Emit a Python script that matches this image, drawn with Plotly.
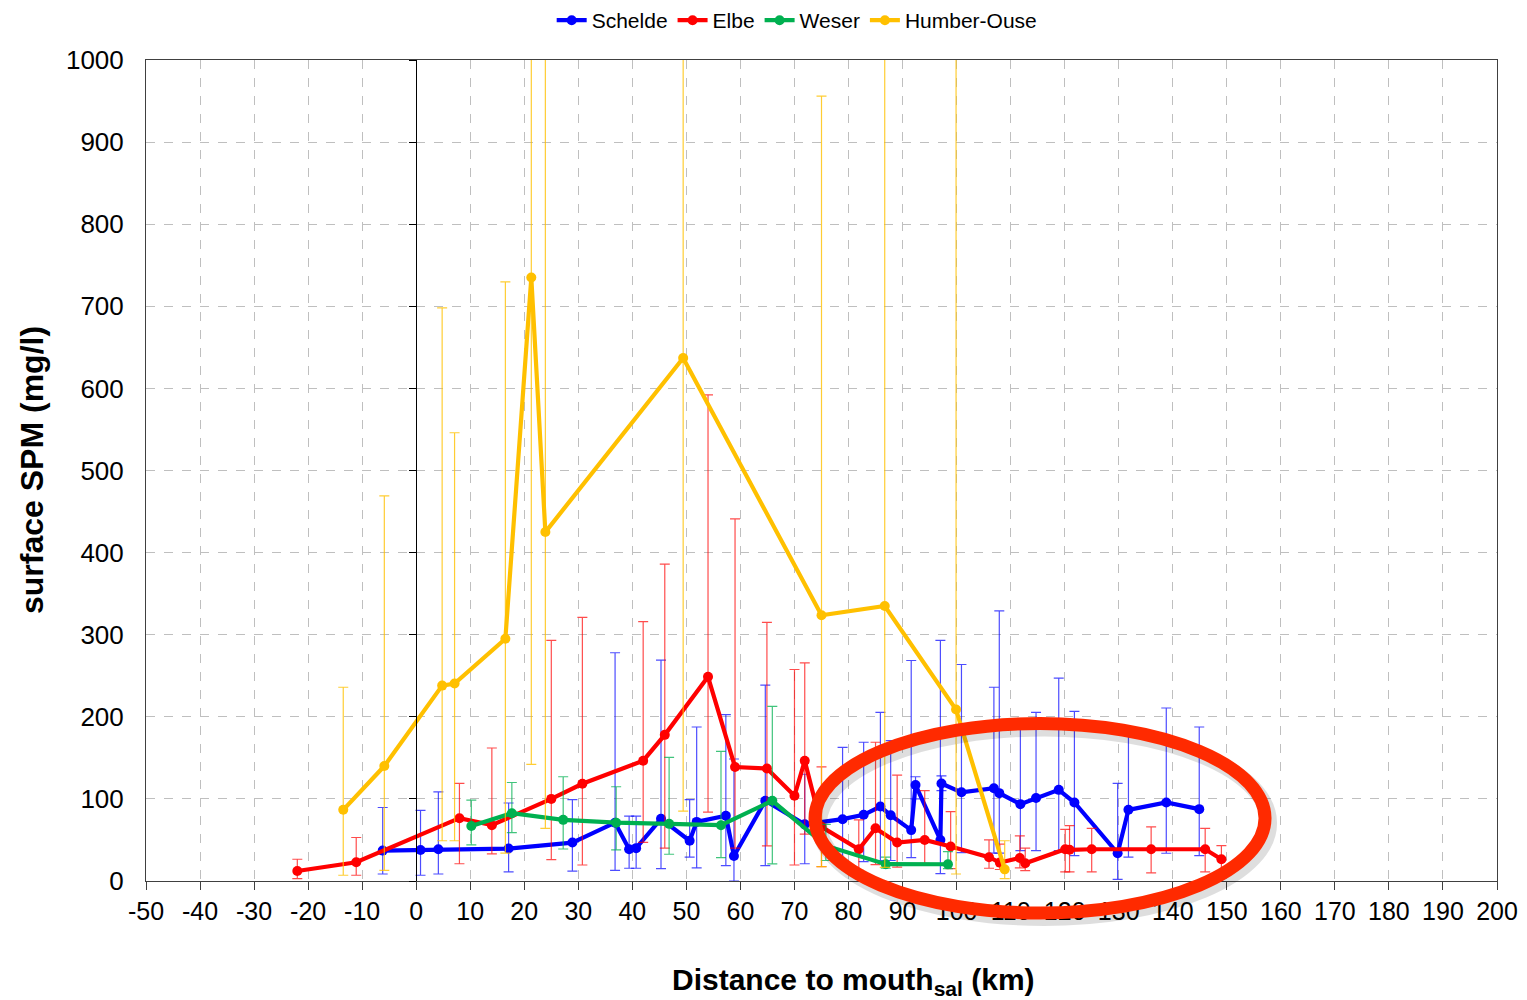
import plotly.graph_objects as go

# ---------------- data ----------------
schelde_x = [-6.2, 0.8, 4.1, 17.1, 28.9, 36.8, 39.4, 40.7, 45.3, 50.6, 51.9, 57.3, 58.8, 64.6,
             71.9, 78.9, 82.8, 85.9, 87.8, 91.6, 92.4, 97.0, 97.2, 100.9, 106.9, 107.9, 111.8,
             114.7, 118.9, 121.8, 129.8, 131.8, 138.8, 144.9]
schelde_y = [37, 37.8, 38.6, 39.5, 46.8, 71, 38.7, 40, 75.7, 49, 72, 79.4, 30.5, 97.7,
             69, 75.3, 80.6, 90.7, 80, 62, 117, 50, 118.8, 108, 113, 107, 93.6,
             101, 111, 95.6, 33.8, 86.7, 95.6, 87.5]
schelde_hi = [89.5, 86, 108.6, 95, 99, 278, 79, 79, 269, 99, 187.6, 202.7, 148.6, 238.5,
              130, 162.8, 169, 205.5, 171, 268.6, 127, 293, 128, 263.7, 236, 329, 196.5,
              205.5, 247, 206.7, 119, 185, 210.7, 187.6]
schelde_lo = [8.5, 7, 8.5, 11, 12, 13, 15.5, 15.5, 15, 29, 16, 18.7, 0, 18.7,
              21, 20, 23.6, 25, 25, 28.5, 100, 9, 110, 34.5, 34, 34, 37,
              37, 37, 31, 2, 29, 33.8, 31]

elbe_x = [-22.0, -11.1, 8.0, 14.0, 25.0, 30.75, 42.0, 46.0, 54.0, 59.0, 64.9, 70.0, 71.9,
          75.0, 81.9, 85.0, 89.0, 94.1, 98.9, 106.0, 108.0, 111.7, 112.7, 120.1, 120.9,
          125.0, 136.0, 146.0, 149.0]
elbe_y = [12.2, 22.8, 76.5, 68, 100, 118.4, 146.5, 178, 248.7, 138.8, 137, 103.8, 146.5,
          66, 38.7, 64.2, 46.8, 50, 42, 29, 22.4, 28, 21.6, 38.7, 38,
          38.7, 38.7, 38.7, 26.5]
elbe_hi = [26.5, 53, 119, 162, 293, 321, 316, 386, 592, 441, 315, 257.6, 265.7,
           139, 74.5, 169, 129, 110, 84.6, 50, 45, 55, 40, 63, 67.5,
           64, 66, 64, 43]
elbe_lo = [3, 7, 21, 33, 26, 19.5, 47, 40, 84, 40, 42.7, 19.5, 57,
           17.5, 13, 20, 17, 21.5, 15, 15.5, 14, 16, 12.6, 11, 11,
           11, 10, 11, 10]

weser_x = [10.2, 17.7, 27.2, 37.0, 46.8, 56.4, 65.9, 75.8, 86.9, 98.4]
weser_y = [67, 82.6, 74.5, 71, 69.6, 68, 97.7, 43, 20.5, 20.4]
weser_hi = [98.5, 120, 127, 114.8, 150.5, 158, 212.8, 69, 29, 35.8]
weser_lo = [44, 59, 39, 38, 32.6, 28.5, 20.8, 25, 15.5, 15]

humber_x = [-13.5, -5.9, 4.8, 7.1, 16.5, 21.3, 23.9, 49.4, 75.0, 86.7, 99.9, 108.9]
humber_y = [86.7, 140, 238, 240.5, 295, 735, 425, 637, 323.6, 335, 208.8, 14.2]
humber_hi = [236, 469, 698, 546, 729.8, 1400, 1400, 1400, 956, 1400, 1400, 49]
humber_lo = [7, 13, 49, 49, 34, 142, 64, 85, 17.5, 16.7, 8.5, 3]

x_ticks = list(range(-50, 201, 10))
y_ticks = list(range(0, 1001, 100))

FONT = "Liberation Sans, Arial, sans-serif"

series = [
    ("Schelde", schelde_x, schelde_y, schelde_hi, schelde_lo, "#0000FF", "rgba(0,0,255,0.7)"),
    ("Elbe", elbe_x, elbe_y, elbe_hi, elbe_lo, "#FF0000", "rgba(255,0,0,0.7)"),
    ("Weser", weser_x, weser_y, weser_hi, weser_lo, "#00B050", "rgba(0,176,80,0.75)"),
    ("Humber-Ouse", humber_x, humber_y, humber_hi, humber_lo, "#FFC000", "rgba(255,192,0,0.8)"),
]

fig = go.Figure()
for name, xs, ys, hi, lo, col, ecol in series:
    fig.add_trace(go.Scatter(
        x=xs, y=ys, name=name, mode="lines+markers",
        line=dict(color=col, width=4.2),
        marker=dict(color=col, size=10),
        error_y=dict(type="data", symmetric=False,
                     array=[h - v for h, v in zip(hi, ys)],
                     arrayminus=[v - l for v, l in zip(ys, lo)],
                     color=ecol, thickness=1.2, width=5),
    ))

# dummy trace so that the tick axis at x = 0 is drawn
fig.add_trace(go.Scatter(x=[None], y=[None], yaxis="y2", showlegend=False,
                         hoverinfo="skip", mode="lines"))

# hand-drawn highlight ellipse (with soft shadow)
ex0, ex1, ey0, ey1 = 0.4952, 0.8283, -0.039, 0.1918
fig.add_shape(type="circle", xref="paper", yref="paper",
              x0=ex0 + 0.003, x1=ex1 + 0.003, y0=ey0 - 0.006, y1=ey1 - 0.006,
              line=dict(color="rgba(0,0,0,0.13)", width=16), layer="above")
fig.add_shape(type="circle", xref="paper", yref="paper",
              x0=ex0, x1=ex1, y0=ey0, y1=ey1,
              line=dict(color="#FF2A00", width=13), layer="above")

# axis titles
fig.add_annotation(text="<b>Distance to mouth<sub>sal</sub> (km)</b>",
                   xref="paper", yref="paper", x=0.524, y=-0.122,
                   xanchor="center", yanchor="middle", showarrow=False,
                   font=dict(size=30, family=FONT, color="black"))
fig.add_annotation(text="<b>surface SPM (mg/l)</b>", textangle=-90,
                   xref="paper", yref="paper", x=-0.0844, y=0.5006,
                   xanchor="center", yanchor="middle", showarrow=False,
                   font=dict(size=32, family=FONT, color="black"))

# the page body has an 8 px margin, so margins are reduced by 8 px on left/top
fig.update_layout(
    width=1527, height=1000,
    margin=dict(l=138, r=38, t=52, b=127, autoexpand=False),
    paper_bgcolor="white", plot_bgcolor="white",
    font=dict(family=FONT, color="black"),
    showlegend=True,
    legend=dict(orientation="h", x=0.482, xanchor="center", xref="paper",
                y=1.073, yanchor="top", yref="paper",
                font=dict(size=21, family=FONT), itemwidth=30, tracegroupgap=0,
                bgcolor="rgba(0,0,0,0)"),
    xaxis=dict(
        range=[-50, 200], tickmode="array", tickvals=x_ticks,
        ticktext=[str(v) for v in x_ticks], automargin=False,
        tickfont=dict(size=25, family=FONT), ticks="outside", ticklen=8,
        tickcolor="#404040", showline=True, linecolor="#404040", linewidth=1, mirror=True,
        showgrid=True, gridcolor="#BFBFBF", griddash="dash", gridwidth=1,
        zeroline=False,
    ),
    yaxis=dict(
        range=[0, 1000], tickmode="array", tickvals=y_ticks,
        ticktext=[str(v) for v in y_ticks], automargin=False,
        tickfont=dict(size=26, family=FONT), ticks="", ticklabelstandoff=16,
        showline=True, linecolor="#404040", linewidth=1, mirror=True,
        showgrid=True, gridcolor="#BFBFBF", griddash="dash", gridwidth=1,
        zeroline=False,
    ),
    yaxis2=dict(
        overlaying="y", anchor="free", position=0.2, side="left",
        range=[0, 1000], tickmode="array", tickvals=y_ticks, automargin=False,
        showticklabels=False, ticks="outside", ticklen=7, tickcolor="black",
        showline=True, linecolor="black", linewidth=1.2,
        showgrid=False, zeroline=False,
    ),
)

fig.write_html("out.html")
